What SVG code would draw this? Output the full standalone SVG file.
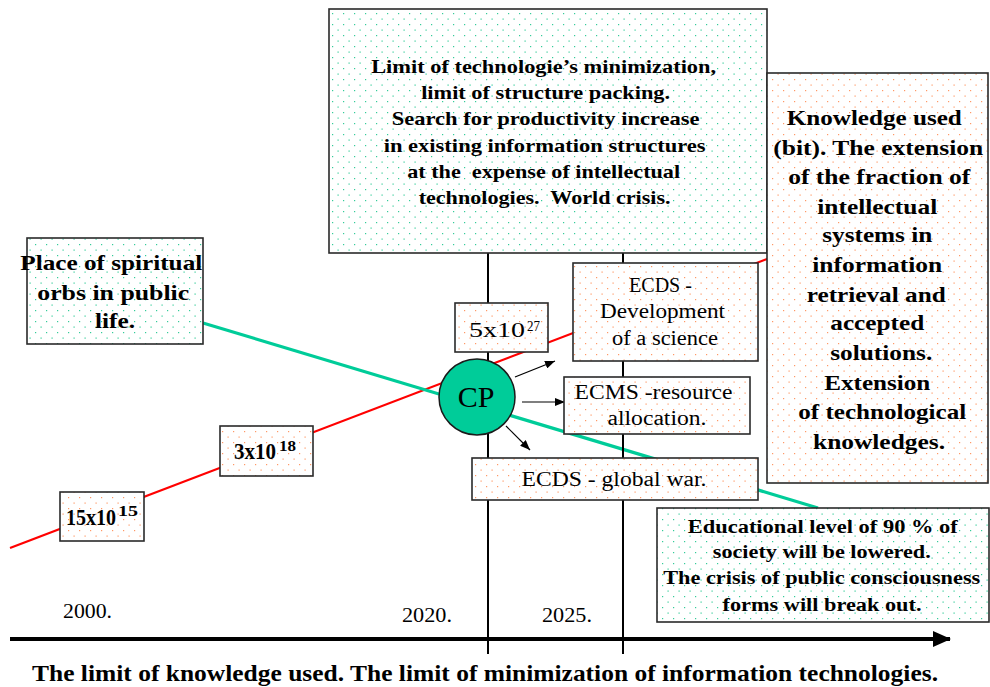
<svg xmlns="http://www.w3.org/2000/svg" width="990" height="687" viewBox="0 0 990 687">
<style>
.box{stroke:#2a2a2a;stroke-width:1.6}
.b{font-family:"Liberation Serif","Times New Roman",serif;font-weight:bold;fill:#000}
.r{font-family:"Liberation Serif","Times New Roman",serif;font-weight:normal;fill:#000}
.m{text-anchor:middle}
.pre{white-space:pre}
</style>
<defs>
<pattern id="dotT" width="11" height="11" patternUnits="userSpaceOnUse">
<rect width="11" height="11" fill="#fff"/>
<rect x="2" y="2" width="1.2" height="1.2" fill="#33cc99"/>
<rect x="7.5" y="7.5" width="1.2" height="1.2" fill="#33cc99"/>
</pattern>
<pattern id="dotO" width="11" height="11" patternUnits="userSpaceOnUse">
<rect width="11" height="11" fill="#fff"/>
<rect x="2" y="2" width="1.2" height="1.2" fill="#ff9966"/>
<rect x="7.5" y="7.5" width="1.2" height="1.2" fill="#ff9966"/>
</pattern>
<marker id="ah" viewBox="0 0 10 8" refX="10" refY="4" markerWidth="10" markerHeight="8" markerUnits="userSpaceOnUse" orient="auto">
<path d="M0,0 L10,4 L0,8 Z" fill="#000"/>
</marker>
<marker id="axh" viewBox="0 0 18 16" refX="17" refY="8" markerWidth="18" markerHeight="16" markerUnits="userSpaceOnUse" orient="auto">
<path d="M0,0 L18,8 L0,16 Z" fill="#000"/>
</marker>
</defs>
<rect width="990" height="687" fill="#fff"/>

<g id="connectors">
<line x1="10" y1="548" x2="767" y2="259" stroke="#ff0000" stroke-width="2.2"/>
<line x1="203" y1="323" x2="818" y2="508" stroke="#00cc99" stroke-width="3.2"/>
<line x1="488" y1="253" x2="488" y2="654" stroke="#000" stroke-width="2"/>
<line x1="623" y1="253" x2="623" y2="654" stroke="#000" stroke-width="2"/>
<line x1="10" y1="639" x2="950" y2="639" stroke="#000" stroke-width="4" marker-end="url(#axh)"/>
<line x1="515" y1="377" x2="555" y2="361" stroke="#000" stroke-width="1.2" marker-end="url(#ah)"/>
<line x1="522" y1="402" x2="565" y2="402" stroke="#000" stroke-width="1.2" marker-end="url(#ah)"/>
<line x1="506" y1="426" x2="530" y2="450" stroke="#000" stroke-width="1.2" marker-end="url(#ah)"/>
</g>

<g id="top-box">
<rect class="box" x="329" y="9" width="438" height="244" fill="url(#dotT)"/>
<text class="b m pre" font-size="19">
<tspan x="546" y="73" textLength="345" lengthAdjust="spacingAndGlyphs">Limit of technologie’s minimization,</tspan>
<tspan x="548" y="99" textLength="249" lengthAdjust="spacingAndGlyphs">limit of structure packing.</tspan>
<tspan x="548" y="125" textLength="308" lengthAdjust="spacingAndGlyphs">Search for productivity increase</tspan>
<tspan x="547" y="152" textLength="322" lengthAdjust="spacingAndGlyphs">in existing information structures</tspan>
<tspan x="546" y="178" textLength="273" lengthAdjust="spacingAndGlyphs">at the  expense of intellectual</tspan>
<tspan x="547" y="204" textLength="252" lengthAdjust="spacingAndGlyphs">technologies.  World crisis.</tspan>
</text>
</g>

<g id="right-box">
<rect class="box" x="767" y="73" width="221" height="410" fill="url(#dotO)"/>
<text class="b m" font-size="22">
<tspan x="877" y="125" textLength="175" lengthAdjust="spacingAndGlyphs">Knowledge used</tspan>
<tspan x="881" y="155" textLength="210" lengthAdjust="spacingAndGlyphs">(bit). The extension</tspan>
<tspan x="882" y="184" textLength="182" lengthAdjust="spacingAndGlyphs">of the fraction of</tspan>
<tspan x="880" y="214" textLength="120" lengthAdjust="spacingAndGlyphs">intellectual</tspan>
<tspan x="880" y="242" textLength="110" lengthAdjust="spacingAndGlyphs">systems in</tspan>
<tspan x="880" y="272" textLength="130" lengthAdjust="spacingAndGlyphs">information</tspan>
<tspan x="879" y="302" textLength="139" lengthAdjust="spacingAndGlyphs">retrieval and</tspan>
<tspan x="880" y="330" textLength="94" lengthAdjust="spacingAndGlyphs">accepted</tspan>
<tspan x="884" y="360" textLength="102" lengthAdjust="spacingAndGlyphs">solutions.</tspan>
<tspan x="880" y="390" textLength="106" lengthAdjust="spacingAndGlyphs">Extension</tspan>
<tspan x="885" y="419" textLength="168" lengthAdjust="spacingAndGlyphs">of technological</tspan>
<tspan x="879" y="449" textLength="132" lengthAdjust="spacingAndGlyphs">knowledges.</tspan>
</text>
</g>

<g id="left-box">
<rect class="box" x="27" y="238" width="176" height="106" fill="url(#dotT)"/>
<text class="b m" font-size="22">
<tspan x="114" y="270" textLength="182" lengthAdjust="spacingAndGlyphs">Place of spiritual</tspan>
<tspan x="116" y="300" textLength="152" lengthAdjust="spacingAndGlyphs">orbs in public</tspan>
<tspan x="115" y="328" textLength="40" lengthAdjust="spacingAndGlyphs">life.</tspan>
</text>
</g>

<g id="val-15x10-15">
<rect class="box" x="60" y="492" width="84" height="49" fill="url(#dotO)"/>
<text class="b" font-size="23"><tspan x="66" y="525" textLength="50" lengthAdjust="spacingAndGlyphs">15x10</tspan><tspan x="118" y="516" font-size="15" textLength="20" lengthAdjust="spacingAndGlyphs">15</tspan></text>
</g>

<g id="val-3x10-18">
<rect class="box" x="220" y="426" width="93" height="50" fill="url(#dotO)"/>
<text class="b" font-size="23"><tspan x="234" y="459" textLength="42" lengthAdjust="spacingAndGlyphs">3x10</tspan><tspan x="279" y="451" font-size="15" textLength="17" lengthAdjust="spacingAndGlyphs">18</tspan></text>
</g>

<g id="val-5x10-27">
<rect class="box" x="455" y="303" width="93" height="49" fill="url(#dotO)"/>
<text class="r" font-size="22"><tspan x="469" y="337" textLength="56" lengthAdjust="spacingAndGlyphs">5x10</tspan><tspan x="527" y="331" font-size="15" textLength="13" lengthAdjust="spacingAndGlyphs">27</tspan></text>
</g>

<g id="ecds-science">
<rect class="box" x="573" y="263" width="185" height="98" fill="url(#dotO)"/>
<text class="r m" font-size="20">
<tspan x="663" y="292">ECDS -</tspan>
<tspan x="665" y="318" textLength="125" lengthAdjust="spacingAndGlyphs">Development</tspan>
<tspan x="665" y="345" textLength="106" lengthAdjust="spacingAndGlyphs">of a science</tspan>
</text>
</g>

<g id="ecms">
<rect class="box" x="564" y="377" width="186" height="57" fill="url(#dotO)"/>
<text class="r m" font-size="20">
<tspan x="656" y="399" textLength="158" lengthAdjust="spacingAndGlyphs">ECMS -resource</tspan>
<tspan x="657" y="425" textLength="99" lengthAdjust="spacingAndGlyphs">allocation.</tspan>
</text>
</g>

<g id="ecds-war">
<rect class="box" x="472" y="458" width="286" height="42" fill="url(#dotO)"/>
<text class="r m" font-size="20" x="614" y="486" textLength="185" lengthAdjust="spacingAndGlyphs">ECDS - global war.</text>
</g>

<g id="cp">
<circle cx="477" cy="397" r="38" fill="#00cc99" stroke="#1a1a1a" stroke-width="1.5"/>
<text class="r m" font-size="30" x="476" y="407">CP</text>
</g>

<g id="bottom-box">
<rect class="box" x="657" y="508" width="332" height="114" fill="url(#dotT)"/>
<text class="b m" font-size="18">
<tspan x="825" y="533" textLength="270" lengthAdjust="spacingAndGlyphs">Educational level of 90 % of</tspan>
<tspan x="824" y="558" textLength="218" lengthAdjust="spacingAndGlyphs">society will be lowered.</tspan>
<tspan x="824" y="584" textLength="317" lengthAdjust="spacingAndGlyphs">The crisis of public consciousness</tspan>
<tspan x="822" y="611" textLength="199" lengthAdjust="spacingAndGlyphs">forms will break out.</tspan>
</text>
</g>

<g id="axis-labels">
<text class="r" font-size="20" x="63" y="618" textLength="49" lengthAdjust="spacingAndGlyphs">2000.</text>
<text class="r" font-size="20" x="402" y="622" textLength="50" lengthAdjust="spacingAndGlyphs">2020.</text>
<text class="r" font-size="20" x="542" y="622" textLength="50" lengthAdjust="spacingAndGlyphs">2025.</text>
<text class="b" font-size="23" x="32" y="681" textLength="906" lengthAdjust="spacingAndGlyphs">The limit of knowledge used. The limit of minimization of information technologies.</text>
</g>
</svg>
